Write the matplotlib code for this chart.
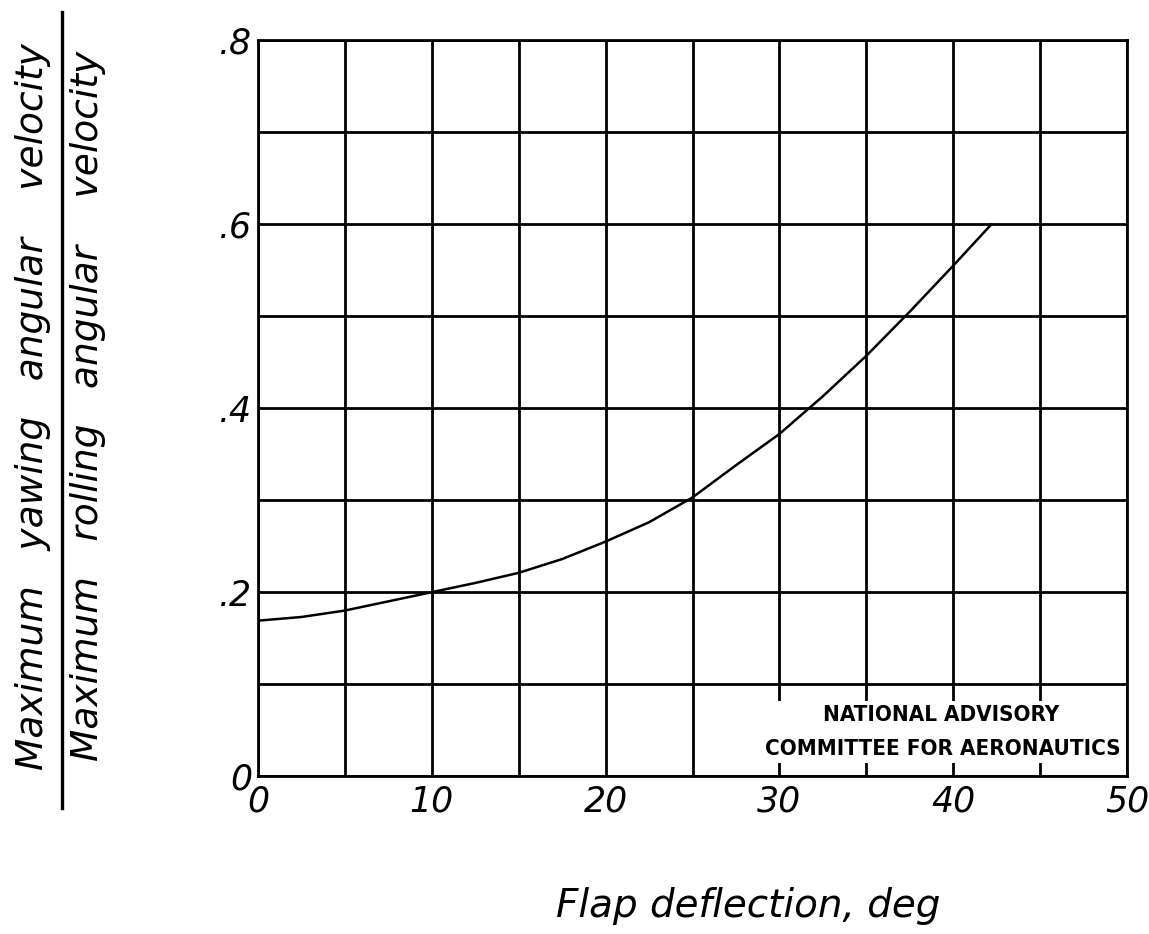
import matplotlib
matplotlib.use("Agg")
import matplotlib.pyplot as plt
from matplotlib.lines import Line2D
from matplotlib.patches import Rectangle

# Data
flap_deg = [0, 2.5, 5, 7.5, 10, 12.5, 15, 17.5, 20, 22.5, 25, 27.5, 30, 32.5, 35, 37.5, 40, 42.2]
ratio = [0.169, 0.173, 0.180, 0.190, 0.200, 0.210, 0.221, 0.236, 0.255, 0.276, 0.303, 0.338,
         0.372, 0.413, 0.457, 0.505, 0.555, 0.600]

x_ticks = [0, 10, 20, 30, 40, 50]
x_tick_labels = ["0", "10", "20", "30", "40", "50"]
y_ticks = [0, 0.2, 0.4, 0.6, 0.8]
y_tick_labels = ["0", ".2", ".4", ".6", ".8"]
x_grid = [0, 5, 10, 15, 20, 25, 30, 35, 40, 45, 50]
y_grid = [0, 0.1, 0.2, 0.3, 0.4, 0.5, 0.6, 0.7, 0.8]

numerator = "Maximum   yawing   angular    velocity"
denominator = "Maximum   rolling   angular    velocity"
x_label = "Flap deflection, deg"
naca_line1 = "NATIONAL ADVISORY"
naca_line2 = "COMMITTEE FOR AERONAUTICS"

fig = plt.figure(figsize=(11.49, 9.34), dpi=100)
ax = fig.add_axes([0.2245, 0.169, 0.7565, 0.788])
ax.set_xlim(0, 50)
ax.set_ylim(0, 0.8)

for gx in x_grid:
    ax.axvline(gx, color="black", lw=2.0, zorder=1)
for gy in y_grid:
    ax.axhline(gy, color="black", lw=2.0, zorder=1)

ax.plot(flap_deg, ratio, color="black", lw=1.8, zorder=2, solid_capstyle="round")

for s in ax.spines.values():
    s.set_linewidth(2.0)
    s.set_zorder(5)

ax.set_xticks(x_ticks, x_tick_labels, fontsize=25, fontstyle="italic")
ax.set_yticks(y_ticks, y_tick_labels, fontsize=25, fontstyle="italic")
ax.tick_params(axis="x", length=0, pad=6)
ax.tick_params(axis="y", length=0, pad=4)

# white area holding the NACA credit in the lower-right cells
ax.add_patch(Rectangle((29.6, 0.014), 20.3, 0.068, facecolor="white", edgecolor="none", zorder=3))
naca_font = dict(fontsize=16, fontweight="bold", fontstretch="condensed",
                 family=["Liberation Sans Narrow", "DejaVu Sans"], zorder=4)
ax.text(39.3, 0.066, naca_line1, ha="center", va="center", **naca_font)
ax.text(39.4, 0.030, naca_line2, ha="center", va="center", **naca_font)

fig.text(0.651, 0.018, x_label, ha="center", va="baseline", fontsize=28, fontstyle="italic")

fig.text(0.029, 0.565, numerator, rotation=90, ha="center", va="center", fontsize=27,
         fontstyle="italic")
fig.text(0.077, 0.565, denominator, rotation=90, ha="center", va="center", fontsize=27,
         fontstyle="italic")
fig.add_artist(Line2D([0.054, 0.054], [0.135, 0.987], color="black", lw=2.4,
                      transform=fig.transFigure))

fig.savefig("out.png", dpi=100, facecolor="white")
